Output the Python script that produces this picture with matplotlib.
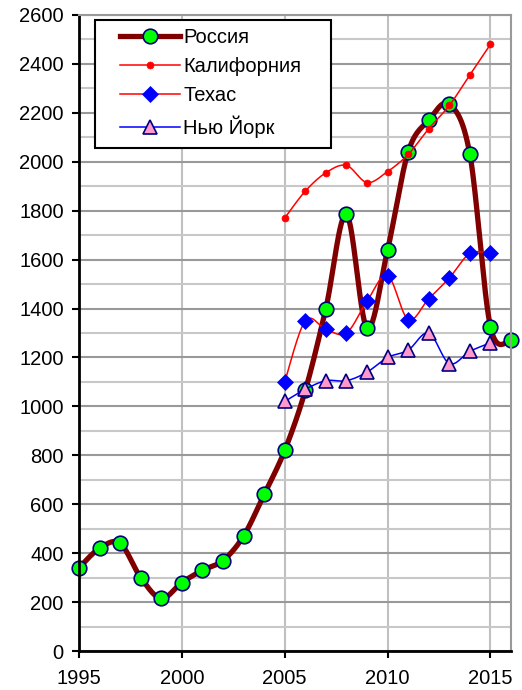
import numpy as np
import matplotlib
matplotlib.use("Agg")
import matplotlib.pyplot as plt
from matplotlib.lines import Line2D
from matplotlib.patches import Rectangle

plt.rcParams['font.family'] = ['Liberation Sans', 'DejaVu Sans']

# data
years_ru = list(range(1995, 2017))
russia = [340, 420, 440, 300, 215, 280, 330, 370, 470, 640, 820,
          1065, 1400, 1785, 1320, 1640, 2040, 2170, 2235, 2030, 1325, 1270]
years_us = list(range(2005, 2016))
california = [1770, 1880, 1955, 1985, 1915, 1960, 2030, 2135, 2230, 2355, 2480]
texas = [1100, 1350, 1315, 1300, 1430, 1535, 1355, 1440, 1525, 1625, 1625]
new_york = [1020, 1070, 1105, 1105, 1140, 1200, 1230, 1300, 1175, 1225, 1260]
labels = ["Россия", "Калифорния", "Техас", "Нью Йорк"]


def smooth(x, y, n=30):
    # Excel-style smoothed line (Catmull-Rom through the points)
    p = np.column_stack([x, y]).astype(float)
    p = np.vstack([p[0], p, p[-1]])
    out = []
    for i in range(1, len(p) - 2):
        p0, p1, p2, p3 = p[i - 1], p[i], p[i + 1], p[i + 2]
        c1 = p1 + (p2 - p0) / 6
        c2 = p2 - (p3 - p1) / 6
        t = np.linspace(0, 1, n)[:, None]
        seg = ((1 - t) ** 3 * p1 + 3 * (1 - t) ** 2 * t * c1
               + 3 * (1 - t) * t ** 2 * c2 + t ** 3 * p2)
        out.append(seg if i == 1 else seg[1:])
    seg = np.vstack(out)
    return seg[:, 0], seg[:, 1]


fig = plt.figure(figsize=(5.22, 6.90), dpi=100)
ax = fig.add_axes([0.1513, 0.0565, 0.8277, 0.9218])

series = [
    (years_ru, russia, dict(color='#800000', lw=3.8), dict(marker='o', ms=10.5, mfc='#00FF00', mec='#000080', mew=1.2)),
    (years_us, california, dict(color='#FF0000', lw=1.1), dict(marker='o', ms=5, mfc='#FF0000', mec='#FF0000', mew=0.5)),
    (years_us, texas, dict(color='#FF0000', lw=1.1), dict(marker='D', ms=8, mfc='#0000FF', mec='#0000FF', mew=0.5)),
    (years_us, new_york, dict(color='#0000FF', lw=1.1), dict(marker='^', ms=9.5, mfc='#FF99CC', mec='#000080', mew=1.2)),
]
handles = []
for x, y, ls, ms in series:
    sx, sy = smooth(x, y)
    ax.plot(sx, sy, solid_capstyle='round', clip_on=False, **ls)
    ax.plot(x, y, ls='none', clip_on=False, **ms)
    handles.append(Line2D([], [], **ls, **ms))

ax.set_xlim(1995, 2016)
ax.set_ylim(0, 2600)
ax.set_xticks(range(1995, 2016, 5))
ax.set_yticks(range(0, 2601, 200))
ax.set_yticks(range(100, 2600, 200), minor=True)
ax.tick_params(axis='both', which='major', direction='out', length=5, width=1.5,
               labelsize=14.5, colors='black')
ax.tick_params(axis='y', which='major', pad=6)
ax.tick_params(axis='x', which='major', pad=8)
ax.tick_params(axis='y', which='minor', length=0)

ax.grid(True, axis='x', color='#C0C0C0', lw=1.5)
ax.grid(True, axis='y', which='major', color='#999999', lw=1.5)
ax.grid(True, axis='y', which='minor', color='#C8C8C8', lw=1.5)
ax.set_axisbelow(True)

for s in ['top', 'right']:
    ax.spines[s].set_color('#999999')
    ax.spines[s].set_linewidth(1.5)
for s in ['left', 'bottom']:
    ax.spines[s].set_color('black')
    ax.spines[s].set_linewidth(2)

# legend frame drawn separately (Excel-like wide side padding)
box = Rectangle((0.037, 0.791), 0.546, 0.201, transform=ax.transAxes,
                facecolor='white', edgecolor='black', lw=1.5, zorder=9,
                clip_on=False)
ax.add_patch(box)
leg = ax.legend(handles, labels, loc='upper left', bbox_to_anchor=(0.095, 0.979),
                borderaxespad=0, borderpad=0, fontsize=14.5, handlelength=3.0,
                handletextpad=0.15, labelspacing=0.5, frameon=False)
leg.set_zorder(10)

fig.savefig('out.png', dpi=100)
